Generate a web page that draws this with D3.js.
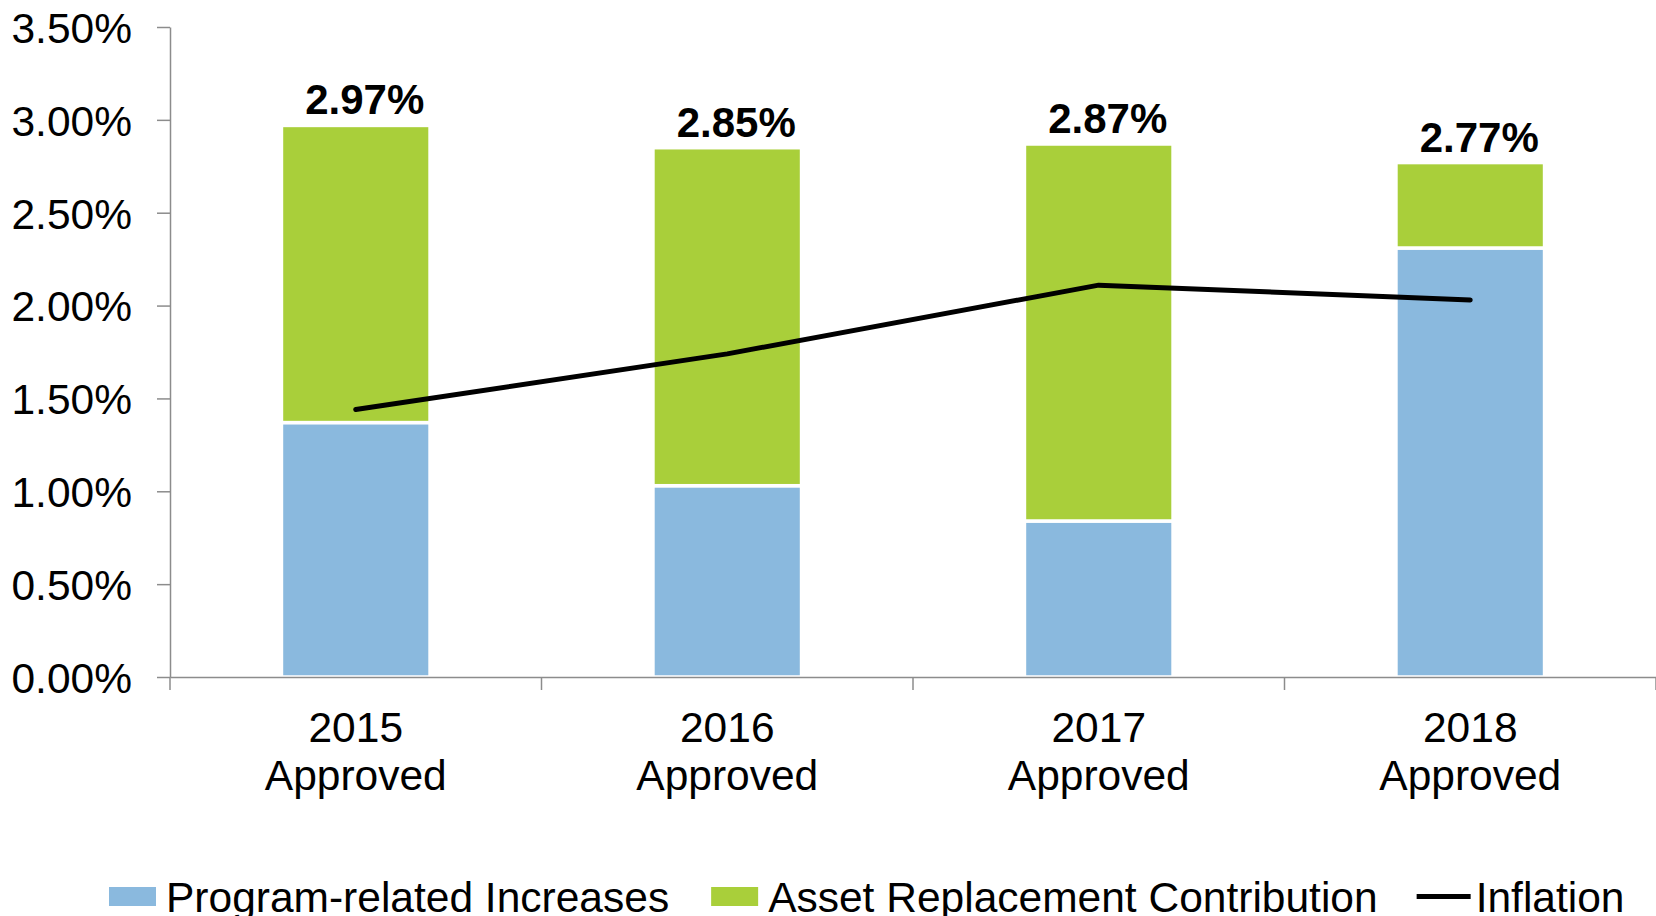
<!DOCTYPE html>
<html>
<head>
<meta charset="utf-8">
<script src="https://cdn.jsdelivr.net/npm/d3@7"></script>
<style>
  body { margin: 0; background: #fff; }
  svg { display: block; font-family: "Liberation Sans", Arial, sans-serif; }
  .axis path, .axis line { stroke: #8c8c8c; stroke-width: 1.5; }
  .axis text { fill: #000; font-size: 42.5px; }
</style>
</head>
<body>
<svg width="1656" height="916"></svg>
<script>
// chart values
var categories = ["2015", "2016", "2017", "2018"];
var subLabel = "Approved";
var programIncreases = [1.37, 1.03, 0.84, 2.31];
var assetReplacement = [1.60, 1.82, 2.03, 0.46];
var inflation = [1.44, 1.74, 2.11, 2.03];
var yTicks = [0, 0.5, 1, 1.5, 2, 2.5, 3, 3.5];
var seriesNames = ["Program-related Increases", "Asset Replacement Contribution", "Inflation"];

var colors = { program: "#8ab9de", asset: "#a9cf3a", line: "#000" };

var svg = d3.select("svg"),
  margin = { top: 27, right: 0, bottom: 239, left: 170 },
  width = +svg.attr("width") - margin.left - margin.right,
  height = +svg.attr("height") - margin.top - margin.bottom;

var x = d3.scaleBand().domain(categories).range([0, width]).padding(0),
  y = d3.scaleLinear().domain([0, 3.5]).range([height, 0]);

var barW = x.bandwidth() * 0.4;
var fmt = d3.format(".2f");

var g = svg.append("g")
  .attr("transform", "translate(" + margin.left + "," + margin.top + ")");

var data = categories.map(function(c, i) {
  return { cat: c, p: programIncreases[i], a: assetReplacement[i], inf: inflation[i] };
});

var bars = g.append("g").selectAll("g").data(data).enter().append("g");

bars.append("rect")
  .attr("x", function(d) { return x(d.cat) + (x.bandwidth() - barW) / 2; })
  .attr("width", barW)
  .attr("y", function(d) { return y(d.p); })
  .attr("height", function(d) { return y(0) - y(d.p); })
  .attr("fill", colors.program)
  .attr("stroke", "#fff")
  .attr("stroke-width", 3.5);

bars.append("rect")
  .attr("x", function(d) { return x(d.cat) + (x.bandwidth() - barW) / 2; })
  .attr("width", barW)
  .attr("y", function(d) { return y(d.p + d.a); })
  .attr("height", function(d) { return y(d.p) - y(d.p + d.a); })
  .attr("fill", colors.asset)
  .attr("stroke", "#fff")
  .attr("stroke-width", 3.5);

// total labels
bars.append("text")
  .attr("x", function(d) { return x(d.cat) + x.bandwidth() / 2 + 9; })
  .attr("y", function(d) { return y(d.p + d.a) - 11; })
  .attr("text-anchor", "middle")
  .style("font-size", "42px")
  .style("font-weight", "bold")
  .text(function(d) { return fmt(d.p + d.a) + "%"; });

// y axis
g.append("g")
  .attr("class", "axis axis--y")
  .call(d3.axisLeft(y).tickValues(yTicks).tickSize(13).tickSizeOuter(0).tickPadding(25)
    .tickFormat(function(d) { return fmt(d) + "%"; }))
  .selectAll("text").attr("dy", "0.36em");

// x axis
var xAx = g.append("g")
  .attr("class", "axis axis--x")
  .attr("transform", "translate(0," + height + ")")
  .call(d3.axisBottom(x).tickSize(0).tickSizeOuter(0).tickFormat(""));

xAx.selectAll(".boundary")
  .data(d3.range(categories.length + 1))
  .enter().append("line")
  .attr("class", "boundary")
  .attr("x1", function(i) { return i * x.step(); })
  .attr("x2", function(i) { return i * x.step(); })
  .attr("y1", 0).attr("y2", 13);

var xl = xAx.selectAll(".tick").append("text")
  .attr("text-anchor", "middle")
  .attr("y", 65);
xl.append("tspan").attr("x", 0).text(function(d) { return d; });
xl.append("tspan").attr("x", 0).attr("dy", 48.3).text(subLabel);

// inflation line
var line = d3.line()
  .x(function(d) { return x(d.cat) + x.bandwidth() / 2; })
  .y(function(d) { return y(d.inf); });

g.append("path")
  .datum(data)
  .attr("fill", "none")
  .attr("stroke", colors.line)
  .attr("stroke-width", 5)
  .attr("stroke-linecap", "round")
  .attr("stroke-linejoin", "round")
  .attr("d", line);

// legend
var legend = svg.append("g").attr("transform", "translate(109,0)");
var lx = 0;
var gaps = [42, 39];
seriesNames.forEach(function(name, i) {
  var item = legend.append("g").attr("transform", "translate(" + lx + ",0)");
  var tx;
  if (i < 2) {
    item.append("rect")
      .attr("x", 0).attr("y", 887)
      .attr("width", 47).attr("height", 19)
      .attr("fill", i == 0 ? colors.program : colors.asset);
    tx = 57;
  } else {
    item.append("line")
      .attr("x1", 0).attr("x2", 54)
      .attr("y1", 896.5).attr("y2", 896.5)
      .attr("stroke", colors.line).attr("stroke-width", 5);
    tx = 59;
  }
  var t = item.append("text")
    .attr("x", tx).attr("y", 911.5)
    .style("font-size", "42.5px")
    .text(name);
  lx += tx + t.node().getComputedTextLength() + (gaps[i] || 0);
});
</script>
</body>
</html>
